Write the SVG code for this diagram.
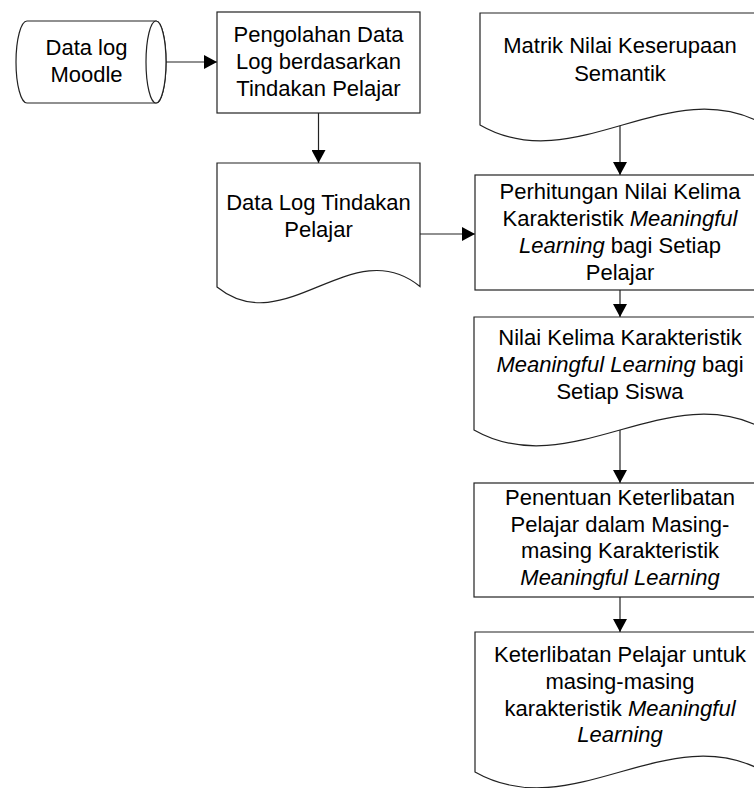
<svg xmlns="http://www.w3.org/2000/svg" width="754" height="788" viewBox="0 0 754 788">
<style>
.s{fill:#fff;stroke:#222;stroke-width:1.2}
.t{font-family:"Liberation Sans",Arial,sans-serif;font-size:22px;fill:#000;text-anchor:middle}
.i{font-style:italic}
.c{stroke:#222;stroke-width:1.2;fill:none;marker-end:url(#ah)}
</style>
<defs>
<marker id="ah" viewBox="0 0 13 14" refX="13" refY="7" markerWidth="13" markerHeight="14" markerUnits="userSpaceOnUse" orient="auto">
<path d="M0,0 L13,7 L0,14 Z" fill="#000"/>
</marker>
</defs>
<rect width="754" height="788" fill="#fff"/>
<g id="connectors">
<line class="c" x1="166" y1="62" x2="217" y2="62"/>
<line class="c" x1="318.5" y1="113" x2="318.5" y2="163"/>
<line class="c" x1="420" y1="234" x2="475" y2="234"/>
<line class="c" x1="620" y1="125" x2="620" y2="175"/>
<line class="c" x1="620" y1="290" x2="620" y2="317"/>
<line class="c" x1="620" y1="430" x2="620" y2="483"/>
<line class="c" x1="620" y1="597" x2="620" y2="632"/>
</g>
<g id="n1">
<path class="s" d="M27,21 L156,21 A10,41 0 0 1 156,103 L27,103 A11,41 0 0 1 27,21 Z"/>
<ellipse class="s" cx="156" cy="62" rx="10" ry="41" fill="none"/>
<text class="t" x="86.5" y="55">Data log</text>
<text class="t" x="86.5" y="82">Moodle</text>
</g>
<g id="n2">
<rect class="s" x="217" y="12" width="203" height="101"/>
<text class="t" x="318.5" y="42">Pengolahan Data</text>
<text class="t" x="318.5" y="69">Log berdasarkan</text>
<text class="t" x="318.5" y="96">Tindakan Pelajar</text>
</g>
<g id="n3">
<path class="s" d="M217,163 L420,163 L420,286.5 C352,231 285,342 217,287 Z"/>
<text class="t" x="318.5" y="210">Data Log Tindakan</text>
<text class="t" x="318.5" y="237">Pelajar</text>
</g>
<g id="n4">
<path class="s" d="M480,13 L765,13 L765,125 C670,70 575,180 480,125 Z"/>
<text class="t" x="620" y="53">Matrik Nilai Keserupaan</text>
<text class="t" x="620" y="81">Semantik</text>
</g>
<g id="n5">
<rect class="s" x="475" y="175" width="290" height="115"/>
<text class="t" x="620" y="199">Perhitungan Nilai Kelima</text>
<text class="t" x="620" y="226">Karakteristik <tspan class="i">Meaningful</tspan></text>
<text class="t" x="620" y="253"><tspan class="i">Learning</tspan> bagi Setiap</text>
<text class="t" x="620" y="280">Pelajar</text>
</g>
<g id="n6">
<path class="s" d="M474,317 L766,317 L766,430 C669,375 571,485 474,430 Z"/>
<text class="t" x="620" y="345">Nilai Kelima Karakteristik</text>
<text class="t" x="620" y="372"><tspan class="i">Meaningful Learning</tspan> bagi</text>
<text class="t" x="620" y="399">Setiap Siswa</text>
</g>
<g id="n7">
<rect class="s" x="474" y="483" width="292" height="114"/>
<text class="t" x="620" y="505">Penentuan Keterlibatan</text>
<text class="t" x="620" y="532">Pelajar dalam Masing-</text>
<text class="t" x="620" y="558">masing Karakteristik</text>
<text class="t i" x="620" y="585">Meaningful Learning</text>
</g>
<g id="n8">
<path class="s" d="M475,632 L765,632 L765,772 C668,717 572,827 475,772 Z"/>
<text class="t" x="620" y="662">Keterlibatan Pelajar untuk</text>
<text class="t" x="620" y="689">masing-masing</text>
<text class="t" x="620" y="716">karakteristik <tspan class="i">Meaningful</tspan></text>
<text class="t i" x="620" y="742">Learning</text>
</g>
</svg>
